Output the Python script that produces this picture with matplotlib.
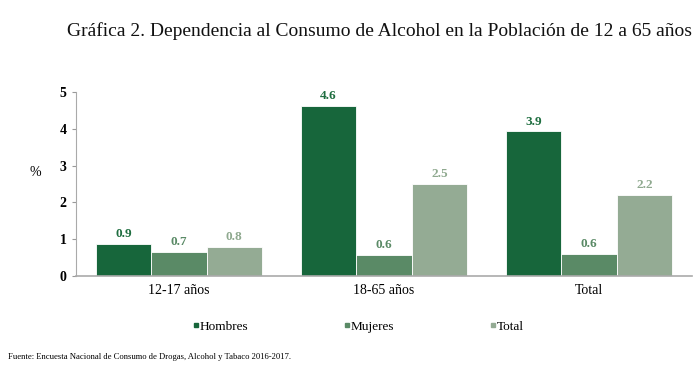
import matplotlib
matplotlib.use('Agg')
import matplotlib.pyplot as plt
from matplotlib.lines import Line2D
import numpy as np

# data
categories = ['12-17 años', '18-65 años', 'Total']
series_names = ['Hombres', 'Mujeres', 'Total']
hombres = [0.87, 4.62, 3.93]
mujeres = [0.66, 0.58, 0.61]
total = [0.79, 2.50, 2.21]
yticks = [0, 1, 2, 3, 4, 5]

colors = ['#17663b', '#5a8a66', '#94ab94']
label_colors = ['#1f6e40', '#5a8a66', '#8fa98f']

plt.rcParams['font.family'] = ['Liberation Serif', 'DejaVu Serif']

fig = plt.figure(figsize=(7, 3.7), dpi=100)
ax = fig.add_axes([0.109, 0.254, 0.879, 0.497])

x = np.arange(len(categories))
w = 0.27
for i, (vals, name) in enumerate(zip([hombres, mujeres, total], series_names)):
    pos = x + (i - 1) * w
    ax.bar(pos, vals, width=w, color=colors[i], edgecolor='white', linewidth=0.6)
    for px, v in zip(pos, vals):
        ax.text(px, v + 0.1, f'{v:.1f}', ha='center', va='bottom',
                fontsize=9.5, fontweight='bold', color=label_colors[i])

ax.set_xlim(-0.5, 2.5)
ax.set_ylim(0, 5)
ax.set_yticks(yticks)
ax.set_xticks(x)
ax.set_xticklabels(categories, fontsize=10)
ax.tick_params(axis='x', length=0, pad=6)
ax.tick_params(axis='y', length=3, color='#999999', labelsize=10, pad=4)
for t in ax.get_yticklabels():
    t.set_fontweight('bold')

for s in ['top', 'right']:
    ax.spines[s].set_visible(False)
ax.spines['left'].set_color('#aaaaaa')
ax.spines['bottom'].set_color('#aaaaaa')
ax.spines['bottom'].set_linewidth(1.2)

fig.text(0.05, 0.535, '%', fontsize=10, ha='center', va='center')

fig.text(0.988, 0.915, 'Gráfica 2. Dependencia al Consumo de Alcohol en la Población de 12 a 65 años',
         fontsize=14, ha='right', va='center', color='#111111')

handles = [Line2D([], [], marker='s', linestyle='none', markersize=3.5, color=c)
           for c in colors]
fig.legend(handles, series_names, loc='center', bbox_to_anchor=(0.512, 0.117),
           ncol=3, frameon=False, fontsize=9.5, handlelength=0.4,
           handletextpad=0.1, columnspacing=7.25)

fig.text(0.011, 0.035, 'Fuente: Encuesta Nacional de Consumo de Drogas, Alcohol y Tabaco 2016-2017.',
         fontsize=6.2, ha='left', va='center')

fig.savefig('out.png', dpi=100)
